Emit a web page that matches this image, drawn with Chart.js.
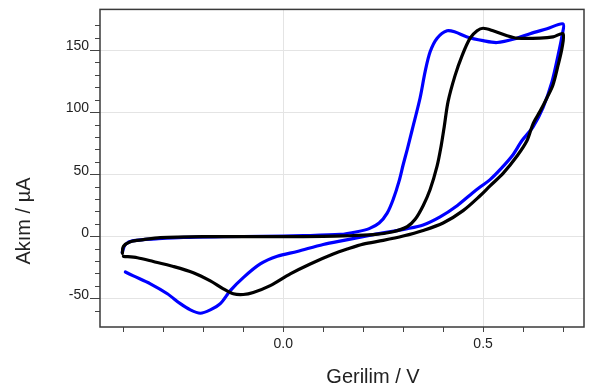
<!DOCTYPE html>
<html>
<head>
<meta charset="utf-8">
<script src="https://cdn.jsdelivr.net/npm/chart.js@4"></script>
<style>
  html, body { margin: 0; padding: 0; background: #fff; }
  canvas { display: block; }
</style>
</head>
<body>
<canvas id="cv" width="592" height="392"></canvas>
<script>
// scan: potential (V) and current (uA), forward then back
const blackV = [-0.4025, -0.4, -0.3825, -0.35, -0.3075, -0.2, -0.1, 0, 0.1, 0.15, 0.225, 0.275, 0.31, 0.33, 0.35,
  0.3675, 0.385, 0.395, 0.4025, 0.4125, 0.43, 0.4475, 0.4675, 0.485, 0.5, 0.525, 0.56, 0.585, 0.6425, 0.675, 0.7,
  0.6975, 0.6875, 0.675, 0.66, 0.6425, 0.625, 0.61, 0.585, 0.55, 0.5175, 0.4925, 0.45, 0.4, 0.35, 0.3, 0.25, 0.2,
  0.16, 0.125, 0.0675, 0.0175, -0.0325, -0.075, -0.1, -0.125, -0.15, -0.1825, -0.225, -0.275, -0.325, -0.365, -0.4];
const blackI = [-13.4, -7.9, -4, -2.4, -0.8, 0, 0, 0, 0.3, 0.6, 1.6, 4, 8, 14, 25,
  38, 57, 73, 88, 109, 130, 146, 160, 166, 168, 166, 162, 160, 160, 161, 163.6,
  152, 138, 122.5, 112, 101, 91, 77.5, 65, 51, 41, 33, 21, 11, 5, 0.5, -3, -6,
  -10, -14, -22, -30, -39.5, -45, -46.6, -46, -42, -35.6, -29, -24, -20, -17, -15.8];

const blueV = [-0.403, -0.395, -0.375, -0.3125, -0.25, -0.15, -0.05, 0.05, 0.1425, 0.185, 0.215, 0.24, 0.26, 0.275,
  0.29, 0.3, 0.31, 0.3225, 0.3425, 0.355, 0.3675, 0.385, 0.41, 0.43, 0.46, 0.5, 0.535, 0.585, 0.6175, 0.66, 0.7,
  0.6975, 0.6875, 0.6725, 0.65, 0.625, 0.5975, 0.5725, 0.5425, 0.5175, 0.4925, 0.475, 0.435, 0.3925, 0.35, 0.31,
  0.225, 0.155, 0.1, 0.035, -0.015, -0.0575, -0.1, -0.1325, -0.1575, -0.1825, -0.2075, -0.2325, -0.2575, -0.29,
  -0.3325, -0.375, -0.395];
const blueI = [-12.6, -6.3, -3.2, -1.6, -0.5, 0, 0.3, 0.8, 1.8, 4, 6.5, 11, 19, 30,
  45, 58, 70, 86, 112, 133, 149, 160, 166, 165, 161, 158, 156.5, 160, 163.6, 167.6, 171.5,
  162, 146, 125, 104, 88.5, 77.5, 65, 54, 46, 40, 35.6, 25, 16, 9.5, 6.5,
  1.6, -2.8, -6.3, -11.9, -15.8, -22, -33, -43.5, -54, -59, -61.7, -59, -54, -46,
  -38, -31.6, -28.5];

const xLabelTicks = [0, 0.5];
const yLabelTicks = [-50, 0, 50, 100, 150];
const xTitle = 'Gerilim / V';
const yTitle = 'Akım / µA';

const FONT = '"Liberation Sans", Arial, sans-serif';
const GRID = '#e4e4e4';
const TICK = '#444';

function pts(xs, ys) {
  return xs.map((x, i) => ({x: x, y: ys[i]}));
}
function isMajorX(v) {
  return xLabelTicks.some(t => Math.abs(t - v) < 1e-6);
}

// box round the plot plus the two axis titles
const frame = {
  id: 'frame',
  afterDraw(chart) {
    const {ctx, chartArea: a} = chart;
    ctx.save();
    ctx.strokeStyle = '#3a3a3a';
    ctx.lineWidth = 1.5;
    ctx.strokeRect(a.left, a.top, a.right - a.left, a.bottom - a.top);
    ctx.fillStyle = '#222';
    ctx.font = '20px ' + FONT;
    ctx.textAlign = 'center';
    ctx.textBaseline = 'middle';
    ctx.fillText(xTitle, 373, 377);
    ctx.translate(24, 221);
    ctx.rotate(-Math.PI / 2);
    ctx.fillText(yTitle, 0, 0);
    ctx.restore();
  }
};

const lineStyle = {showLine: true, pointRadius: 0, borderWidth: 3.2, tension: 0.3,
  borderJoinStyle: 'round', borderCapStyle: 'round'};

new Chart(document.getElementById('cv'), {
  type: 'scatter',
  data: {
    datasets: [
      Object.assign({data: pts(blackV, blackI), borderColor: '#000'}, lineStyle),
      Object.assign({data: pts(blueV, blueI), borderColor: '#0000ff'}, lineStyle)
    ]
  },
  options: {
    responsive: false,
    animation: false,
    layout: {padding: {left: 0, top: 3, right: 8, bottom: 0}},
    plugins: {legend: {display: false}, tooltip: {enabled: false}},
    scales: {
      x: {
        type: 'linear',
        min: -0.4585,
        max: 0.7525,
        border: {display: false},
        afterFit: s => { s.height = 65; },
        grid: {
          color: c => isMajorX(c.tick.value) ? GRID : 'rgba(0,0,0,0)',
          tickColor: TICK,
          tickLength: 5
        },
        ticks: {
          stepSize: 0.1,
          includeBounds: false,
          autoSkip: false,
          maxRotation: 0,
          padding: 4,
          color: '#222',
          font: {family: FONT, size: 14},
          callback: v => isMajorX(v) ? v.toFixed(1) : ''
        }
      },
      y: {
        type: 'linear',
        position: 'left',
        weight: 1,
        min: -72.8,
        max: 183.2,
        border: {display: false},
        afterFit: s => { s.width = 100; },
        grid: {color: GRID, tickColor: TICK, tickLength: 10},
        ticks: {
          stepSize: 50,
          includeBounds: false,
          padding: 1,
          labelOffset: -4,
          color: '#222',
          font: {family: FONT, size: 14},
          callback: v => yLabelTicks.includes(v) ? String(v) : ''
        }
      },
      yMinor: {
        type: 'linear',
        position: 'left',
        weight: 0,
        min: -72.8,
        max: 183.2,
        border: {display: false},
        afterFit: s => { s.width = 0; },
        grid: {
          drawOnChartArea: false,
          tickLength: 5,
          tickColor: c => (c.tick.value < -65 || c.tick.value > 175) ? 'rgba(0,0,0,0)' : TICK
        },
        ticks: {stepSize: 10, includeBounds: false, display: false}
      }
    }
  },
  plugins: [frame]
});
</script>
</body>
</html>
